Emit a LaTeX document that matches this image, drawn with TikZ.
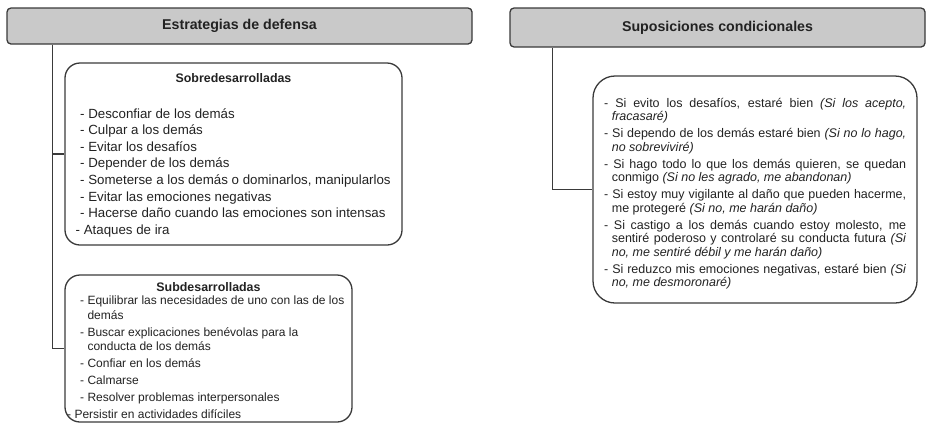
\documentclass[tikz,border=0pt]{standalone}
\usepackage{fontspec}
\setmainfont{Liberation Sans}
\usetikzlibrary{calc}
\definecolor{linec}{HTML}{3A3A3A}
\definecolor{hdrfill}{HTML}{C9C9C9}
\definecolor{txt}{HTML}{222222}
\newlength\dashw
\begin{document}
\begin{tikzpicture}[x=1pt,y=-1pt,
  hdrbox/.style={draw=linec, fill=hdrfill, line width=1.3pt, rounded corners=4pt,
    text=txt, font=\fontsize{14.2}{17}\selectfont\bfseries, inner sep=0pt},
  listbox/.style={draw=linec, line width=1.3pt, rounded corners=15pt, inner sep=0pt},
  conn/.style={draw=linec, line width=1.3pt},
  boxtitle/.style={text=txt, font=\fontsize{12.4}{15}\selectfont\bfseries, inner sep=0pt},
  listtext/.style={text=txt, anchor=north west, align=left, inner sep=0pt}]
\useasboundingbox (0,0) rectangle (931,424);

% headers
\node[hdrbox, minimum width=465pt, minimum height=36pt] (h1) at (239.5,26) {Estrategias de defensa};
\node[hdrbox, minimum width=415pt, minimum height=39pt] (h2) at (717.5,27.5) {Suposiciones condicionales};

% left boxes
\node[listbox, minimum width=337pt, minimum height=182pt] (sobre) at (233.5,154) {};
\node[listbox, minimum width=287pt, minimum height=147pt] (sub) at (208.5,348.5) {};
% right box
\node[listbox, rounded corners=22pt, minimum width=324pt, minimum height=227pt] (rbox) at (755,189.5) {};

% connectors
\draw[conn] ($(h1.south west)+(46,0)$) |- (sobre.west);
\draw[conn] ($(h1.south west)+(46,0)$) |- (sub.west);
\draw[conn] ($(h2.south west)+(43,0)$) |- (rbox.west);

% Sobredesarrolladas
\node[boxtitle] (sobretitle) at (233.5,78) {Sobredesarrolladas};
\node[listtext, font=\fontsize{13.3}{16.6}\selectfont] (sobrelist) at (80,108) {%
- Desconfiar de los demás\\
- Culpar a los demás\\
- Evitar los desafíos\\
- Depender de los demás\\
- Someterse a los demás o dominarlos, manipularlos\\
- Evitar las emociones negativas\\
- Hacerse daño cuando las emociones son intensas\\
\hspace*{-4.5pt}- Ataques de ira};

% Subdesarrolladas
\node[boxtitle] (subtitle) at (208.5,287) {Subdesarrolladas};
\node[listtext, font=\fontsize{12}{14.5}\selectfont] (sublist) at (80,296) {%
- Equilibrar las necesidades de uno con las de los\\
\hspace*{7.3pt}demás\\[2.5pt]
- Buscar explicaciones benévolas para la\\
\hspace*{7.3pt}conducta de los demás\\[2.5pt]
- Confiar en los demás\\[2.5pt]
- Calmarse\\[2.5pt]
- Resolver problemas interpersonales\\[2.5pt]
\hspace*{-13pt}- Persistir en actividades difíciles};

% Suposiciones condicionales
\node[text=txt, anchor=north west, inner sep=0pt, font=\fontsize{12.5}{13.5}\selectfont] (rlist) at (604,98) {%
\begin{minipage}[t]{302pt}
\setlength{\parindent}{0pt}\setlength{\parskip}{3.5pt}\hbadness=10000
\settowidth{\dashw}{- }%
\hangindent=\dashw\hangafter=1
- Si evito los desafíos, estaré bien \textit{(Si los acepto,}\linebreak \textit{fracasaré)}\par
\hangindent=\dashw\hangafter=1
- Si dependo de los demás estaré bien \textit{(Si no lo hago,}\linebreak \textit{no sobreviviré)}\par
\hangindent=\dashw\hangafter=1
- Si hago todo lo que los demás quieren, se quedan\linebreak conmigo \textit{(Si no les agrado, me abandonan)}\par
\hangindent=\dashw\hangafter=1
- Si estoy muy vigilante al daño que pueden hacerme,\linebreak me protegeré \textit{(Si no, me harán daño)}\par
\hangindent=\dashw\hangafter=1
- Si castigo a los demás cuando estoy molesto, me\linebreak sentiré poderoso y controlaré su conducta futura \textit{(Si}\linebreak \textit{no, me sentiré débil y me harán daño)}\par
\hangindent=\dashw\hangafter=1
- Si reduzco mis emociones negativas, estaré bien \textit{(Si}\linebreak \textit{no, me desmoronaré)}\par
\end{minipage}};
\end{tikzpicture}
\end{document}
